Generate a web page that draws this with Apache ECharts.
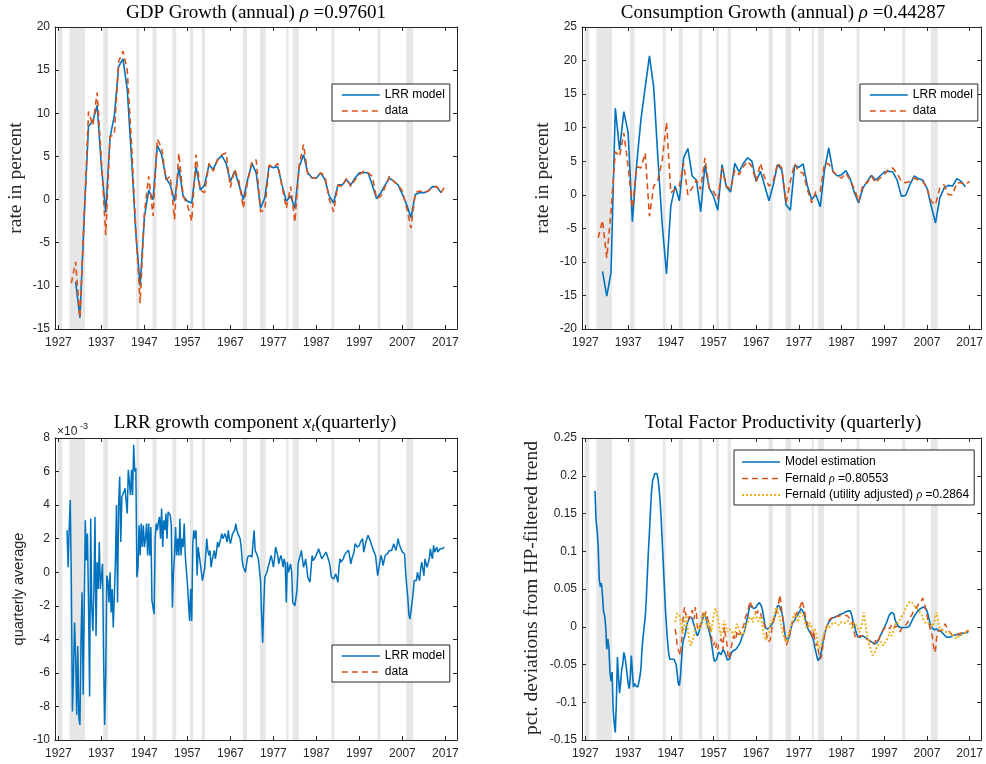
<!DOCTYPE html>
<html><head><meta charset="utf-8">
<script src="https://cdn.jsdelivr.net/npm/echarts@6/dist/echarts.min.js"></script>
<style>html,body{margin:0;padding:0;background:#fff}#c{width:986px;height:764px}</style>
</head><body><div id="c"></div>
<script>
// ---------------- data ----------------
const xTickYears = [1927,1937,1947,1957,1967,1977,1987,1997,2007,2017];
const gdpTicks = [-15,-10,-5,0,5,10,15,20];
const consTicks = [-20,-15,-10,-5,0,5,10,15,20,25];
const xtTicks = [-10,-8,-6,-4,-2,0,2,4,6,8];
const tfpTicks = [-0.15,-0.1,-0.05,0,0.05,0.1,0.15,0.2,0.25];

// NBER recessions [start, end] in years
const recessions = [[1926.8,1927.9],[1929.6,1933.2],[1937.4,1938.5],[1945.1,1945.8],[1948.9,1949.8],
  [1953.5,1954.4],[1957.6,1958.3],[1960.3,1961.1],[1969.9,1970.9],[1973.9,1975.2],[1980.0,1980.5],
  [1981.5,1982.9],[1990.5,1991.2],[2001.2,2001.9],[2007.9,2009.5]];

// GDP growth (annual, %)
const gdpModelStart = 1931;
const gdpModel = [
  -9.5,-13.7,-1.9,8.5,9.1,10.9,3.8,-1.5,7.2,9.7,
  15.4,16.3,12.8,4.8,-3.9,-10.0,-2.0,1.1,0.0,6.3,
  5.2,2.5,1.7,-0.2,3.7,0.4,-0.2,-0.4,3.8,1.1,
  1.7,4.0,3.5,4.6,5.1,4.2,2.1,3.3,1.7,0.0,
  2.3,4.2,3.1,-1.0,0.2,3.9,3.7,3.8,1.7,-0.2,
  0.4,-1.0,3.8,5.2,3.1,2.5,2.5,3.1,2.3,0.4,
  -0.4,1.7,1.7,2.3,1.7,2.5,3.1,3.1,3.1,1.7,
  0.1,0.8,1.7,2.5,2.1,1.7,0.6,-0.6,-2.1,0.6,
  0.8,0.8,1.0,1.5,1.5,0.8];
const gdpDataStart = 1930;
const gdpData = [
  -9.7,-7.2,-13.7,-1.9,10.2,8.6,12.4,4.6,-4.1,7.3,
  7.5,16.0,17.2,15.0,6.5,-3.5,-12.0,-1.5,2.7,-1.9,
  7.0,6.0,2.3,2.7,-2.3,5.4,0.4,-0.6,-2.5,5.2,
  1.1,0.8,4.2,3.3,4.6,5.2,5.4,1.4,3.5,2.1,
  -1.0,2.1,4.4,4.6,-1.4,-1.2,4.0,3.7,4.2,1.5,
  -1.0,1.5,-2.6,4.0,6.4,2.9,2.5,2.5,3.1,2.7,
  0.0,-1.4,1.7,1.5,2.5,1.5,2.3,2.9,3.3,3.1,
  2.7,0.1,0.4,1.5,2.7,2.1,1.7,1.0,-1.0,-3.3,
  0.8,1.0,0.8,1.0,1.4,1.5,0.8,1.6];

// Consumption growth (annual, %)
const consModelStart = 1931;
const consModel = [
  -11.4,-15.1,-11.6,12.9,6.7,12.4,9.3,-4.0,4.5,11.2,
  16.0,20.7,16.0,5.2,-4.5,-11.8,-1.7,1.3,-0.9,5.5,
  6.9,2.8,2.2,-2.5,4.4,1.0,-0.2,-2.3,4.5,1.2,
  0.4,4.7,3.4,4.7,5.5,5.0,2.0,3.5,1.3,-0.9,
  1.5,4.5,3.7,-1.5,-2.3,4.4,4.1,4.6,1.3,-0.7,
  0.0,-1.8,3.7,7.0,3.4,2.8,3.0,3.6,2.4,0.3,
  -1.2,1.0,2.0,2.9,2.2,2.8,3.4,3.5,3.4,2.2,
  -0.2,-0.1,1.5,2.8,2.4,2.2,1.0,-1.7,-4.2,-0.5,
  1.0,1.4,1.3,2.4,2.0,1.2];
const consDataStart = 1930;
const consData = [
  -6.4,-3.8,-9.4,-2.5,6.4,5.7,9.2,4.2,-2.0,4.2,
  4.0,6.2,-3.2,1.3,2.2,5.2,10.8,0.3,0.8,1.3,
  4.7,0.0,1.0,2.2,0.8,5.5,1.0,0.5,-0.7,4.0,
  1.3,0.8,3.7,3.0,4.2,5.0,4.2,2.0,4.7,2.5,
  1.3,2.0,4.7,4.0,-1.2,2.0,4.6,3.5,3.2,0.8,
  -1.2,0.5,0.5,4.7,4.6,3.5,2.8,2.5,3.2,2.2,
  0.9,-1.0,1.5,1.8,2.8,1.8,2.5,3.0,3.8,4.0,
  3.2,2.0,1.8,2.0,2.5,2.2,2.0,1.0,-1.0,-1.5,
  1.0,1.5,0.0,0.0,1.8,1.8,1.5,2.0];

// LRR growth component x_t (quarterly, in units of 1e-3), from 1929Q1
const xtStart = 1929;
const xtModel = [
  2.5,0.3,2.6,4.3,  -0.6,-8.3,-6.0,-3.0,  -5.0,-8.5,-4.4,-8.7,  -9.1,-4.0,-1.2,-7.3,
  -7.3,3.1,0.7,2.3,  -2.0,-7.4,3.2,-2.0,  -3.5,-1.0,3.3,-3.8,  0.6,-1.0,1.8,-1.0,
  -1.0,0.5,-5.0,-9.1,  -6.0,-0.2,-0.5,-1.8,  0.0,-2.4,-1.0,-3.3,  -3.3,0.6,4.0,-1.8,
  4.0,5.7,1.8,4.5,  4.5,4.8,5.0,5.0,  3.5,6.1,6.1,4.6,  6.1,4.6,7.6,6.0,
  6.2,-0.3,0.3,2.8,  1.0,2.9,1.5,2.8,  1.5,2.0,2.9,1.0,  2.9,1.0,2.7,-1.7,
  -1.7,-2.5,2.0,2.9,  2.5,3.0,3.3,2.0,  3.8,1.5,3.1,2.5,  3.5,2.0,3.6,3.6,
  3.4,2.8,-2.1,0.0,  1.0,2.7,1.0,2.0,  1.0,3.2,1.0,2.0,  1.5,2.9,1.0,1.0,
  -0.7,-0.7,-2.9,-1.0,  -2.9,1.7,2.5,2.0,  2.5,-0.2,1.5,1.0,  0.5,0.0,-0.5,-0.6,
  0.2,1.0,2.0,1.3,  1.0,1.3,0.3,0.7,  1.0,1.3,0.8,1.2,  1.8,1.5,1.5,2.0,
  2.3,2.0,2.0,2.3,  2.3,1.8,2.5,2.0,  1.7,1.7,2.3,2.3,  2.5,2.9,2.5,2.3,
  2.3,2.0,1.5,0.7,  0.3,0.3,0.0,0.5,  0.9,0.9,1.0,1.0,  0.9,1.0,2.5,1.3,
  1.3,1.0,0.8,0.8,  -0.5,-2.5,-4.2,-2.0,  -0.3,-0.2,0.0,0.3,  0.5,0.8,1.0,1.0,
  0.3,0.8,1.5,1.5,  1.0,0.5,0.8,1.0,  0.7,0.3,0.8,0.5,  -1.8,0.6,0.0,0.0,
  0.5,0.0,-1.8,-1.9,  -2.0,-2.1,-1.0,0.5,  0.8,1.0,1.3,0.8,  0.3,0.5,0.8,0.3,
  -0.3,-0.3,-0.6,0.2,  1.0,0.7,0.7,0.9,  1.0,1.2,1.4,1.4,  1.0,0.8,0.9,1.0,
  1.0,1.2,1.0,0.8,  0.6,0.2,-0.3,-0.4,  -0.4,-0.4,-0.1,-0.1,  -0.6,0.3,0.8,0.6,
  0.5,0.8,1.0,1.0,  1.2,1.2,1.3,1.3,  0.5,0.8,1.0,1.2,  1.7,1.7,1.5,1.5,
  1.6,1.8,1.9,2.0,  1.2,1.5,1.8,2.0,  2.2,2.2,1.9,1.7,  1.5,1.3,1.2,1.0,
  1.0,-0.2,0.2,0.6,  1.0,0.8,0.4,0.4,  1.0,1.0,1.1,1.2,  1.3,1.2,1.3,1.5,
  1.7,1.5,1.3,1.6,  2.0,1.7,1.5,1.5,  1.2,1.1,1.1,0.0,  -0.8,-1.5,-2.5,-2.8,
  -2.8,-1.8,-1.2,-0.5,  -0.5,-0.5,0.0,-0.3,  -0.5,0.2,0.6,0.2,  -0.2,0.8,0.5,0.3,
  0.3,0.8,1.4,1.0,  0.8,1.6,1.2,1.2,  1.5,1.2,1.2,1.4,  1.5,1.4,1.5,1.5];

// TFP: model estimate (quarterly, from 1929Q2)
const tfpModelStart = 1929.25;
const tfpModel = [
  0.18,0.14,0.128,
  0.105,0.062,0.053,0.058,  0.041,0.02,0.015,0.0,  -0.03,-0.016,-0.028,-0.06,  -0.072,-0.06,-0.11,-0.128,
  -0.14,-0.1,-0.04,-0.066,  -0.088,-0.074,-0.056,-0.05,  -0.034,-0.04,-0.05,-0.062,  -0.075,-0.082,-0.068,-0.038,
  -0.06,-0.08,-0.075,-0.078,  -0.079,-0.08,-0.074,-0.066,  -0.056,-0.03,-0.014,-0.012,  0.012,0.035,0.068,0.1,
  0.125,0.155,0.18,0.194,  0.198,0.203,0.205,0.203,  0.196,0.184,0.166,0.142,  0.112,0.082,0.052,0.022,
  0.0,-0.02,-0.035,-0.043,  -0.045,-0.043,-0.044,-0.043,  -0.045,-0.05,-0.062,-0.075,  -0.078,-0.066,-0.045,-0.025,
  -0.016,-0.013,-0.006,0.003,  0.007,0.01,0.013,0.015,  0.011,0.006,0.001,-0.004,  -0.009,-0.012,-0.008,-0.004,
  -0.002,0.005,0.011,0.016,  0.017,0.012,0.004,-0.002,  -0.006,-0.012,-0.02,-0.03,  -0.04,-0.046,-0.047,-0.043,
  -0.037,-0.034,-0.035,-0.037,  -0.037,-0.03,-0.032,-0.035,  -0.04,-0.044,-0.045,-0.043,  -0.038,-0.034,-0.033,-0.031,
  -0.03,-0.03,-0.028,-0.026,  -0.025,-0.021,-0.017,-0.013,  -0.012,-0.006,0.0,0.007,  0.013,0.02,0.028,0.029,
  0.026,0.025,0.024,0.024,  0.026,0.029,0.031,0.032,  0.03,0.027,0.021,0.013,  0.004,-0.002,-0.004,-0.003,
  -0.001,0.0,0.002,0.004,  0.007,0.011,0.016,0.022,  0.028,0.03,0.027,0.022,  0.019,0.012,0.002,-0.01,
  -0.017,-0.019,-0.016,-0.013,  -0.006,0.0,0.005,0.006,  0.008,0.012,0.014,0.016,  0.017,0.021,0.024,0.023,
  0.02,0.016,0.01,0.004,  -0.001,-0.004,-0.006,-0.009,  -0.012,-0.015,-0.02,-0.028,  -0.034,-0.04,-0.045,-0.044,
  -0.04,-0.033,-0.025,-0.017,  -0.01,-0.005,0.0,0.003,  0.006,0.008,0.01,0.011,  0.012,0.013,0.013,0.013,
  0.014,0.015,0.016,0.016,  0.017,0.017,0.018,0.019,  0.02,0.02,0.021,0.021,  0.021,0.018,0.012,0.006,
  0.002,-0.004,-0.009,-0.013,  -0.014,-0.014,-0.013,-0.012,  -0.012,-0.013,-0.014,-0.015,  -0.016,-0.017,-0.018,-0.019,
  -0.02,-0.021,-0.022,-0.023,  -0.023,-0.021,-0.019,-0.016,  -0.013,-0.01,-0.007,-0.004,  -0.001,0.002,0.005,0.009,
  0.013,0.016,0.018,0.019,  0.02,0.017,0.01,0.006,  0.004,0.001,-0.001,-0.001,  -0.001,-0.001,-0.001,-0.001,
  -0.001,-0.001,-0.001,0.0,  0.002,0.005,0.008,0.011,  0.013,0.016,0.018,0.02,  0.021,0.023,0.024,0.025,
  0.026,0.026,0.025,0.024,  0.021,0.016,0.01,0.004,  0.001,-0.002,-0.004,-0.004,  -0.003,-0.003,-0.004,-0.005,
  -0.005,-0.006,-0.008,-0.009,  -0.011,-0.012,-0.013,-0.014,  -0.014,-0.014,-0.014,-0.013,  -0.012,-0.011,-0.012,-0.011,
  -0.01,-0.01,-0.012,-0.011,  -0.01,-0.009,-0.008,-0.008,  -0.007,-0.008,-0.006,-0.006];

// TFP: Fernald series (quarterly, from 1948Q1)
const fernaldStart = 1948;
const fernald = [
  -0.003,-0.01,-0.025,-0.03,  -0.028,-0.038,-0.02,0.0,  0.02,0.026,0.015,0.018,  0.02,0.01,0.012,0.016,
  0.022,0.024,0.01,0.026,  0.018,0.0,-0.005,-0.002,  0.005,0.01,0.017,0.02,  0.015,0.02,0.018,0.008,
  0.005,-0.005,-0.012,-0.022,  -0.025,-0.02,-0.028,-0.022,  -0.03,-0.022,-0.02,-0.016,  -0.02,-0.03,0.0,-0.01,
  -0.015,-0.03,-0.043,-0.04,  -0.03,-0.025,-0.015,-0.012,  -0.018,-0.015,-0.005,-0.01,  -0.012,-0.01,-0.003,-0.005,
  0.0,0.006,0.013,0.016,  0.019,0.026,0.034,0.03,  0.028,0.025,0.024,0.02,  0.02,0.018,0.022,0.024,
  0.018,0.013,0.01,0.006,  0.0,-0.005,-0.012,-0.02,  -0.02,-0.018,-0.01,0.0,  0.006,0.012,0.015,0.02,
  0.024,0.03,0.042,0.034,  0.02,0.01,-0.005,-0.012,  -0.025,-0.022,-0.02,-0.012,  -0.005,0.002,0.006,0.01,
  0.012,0.015,0.018,0.02,  0.022,0.026,0.03,0.035,  0.028,0.024,0.015,0.01,  0.005,0.0,-0.003,-0.005,
  -0.01,-0.016,-0.005,-0.02,  -0.025,-0.022,-0.03,-0.038,  -0.043,-0.04,-0.03,-0.02,  -0.012,-0.005,0.0,0.006,
  0.008,0.01,0.01,0.012,  0.012,0.01,0.012,0.014,  0.012,0.014,0.015,0.015,  0.016,0.015,0.014,0.015,
  0.014,0.015,0.016,0.012,  0.01,0.008,0.005,-0.002,  -0.008,-0.016,-0.015,-0.014,  -0.016,-0.012,-0.014,-0.012,
  -0.014,-0.013,-0.015,-0.016,  -0.016,-0.017,-0.018,-0.02,  -0.021,-0.024,-0.025,-0.022,  -0.018,-0.02,-0.021,-0.017,
  -0.012,-0.01,-0.006,-0.004,  -0.003,0.0,0.002,0.0,  -0.001,-0.003,0.0,0.004,  0.005,0.002,-0.001,0.0,
  0.001,0.002,-0.004,-0.007,  -0.003,-0.001,0.0,0.001,  0.002,0.004,0.006,0.008,  0.012,0.013,0.016,0.02,
  0.022,0.024,0.025,0.027,  0.03,0.032,0.031,0.035,  0.038,0.04,0.03,0.02,  0.015,0.008,0.004,-0.003,
  -0.008,-0.012,-0.025,-0.034,  -0.03,-0.015,-0.008,-0.005,  -0.004,-0.005,-0.003,-0.002,  0.0,0.004,0.006,-0.002,
  -0.004,-0.007,-0.009,-0.01,  -0.01,-0.012,-0.01,-0.011,  -0.012,-0.01,-0.01,-0.009,  -0.01,-0.008,-0.009,-0.007,
  -0.008,-0.006,-0.007,-0.006];
const fernaldUtil = [
  0.006,0.012,0.018,0.019,  0.016,0.01,0.002,-0.01,  -0.004,0.006,0.015,0.01,  -0.005,-0.015,-0.022,-0.025,
  -0.02,-0.015,-0.01,0.0,  0.004,0.006,0.0,-0.004,  -0.004,0.005,0.015,0.019,  0.015,0.006,-0.002,0.0,
  0.006,0.0,-0.007,0.004,  0.012,0.02,0.024,0.02,  0.012,0.002,-0.006,-0.012,  -0.006,0.002,0.008,0.004,
  -0.002,-0.007,-0.006,-0.003,  -0.001,-0.005,-0.009,-0.012,  -0.008,-0.002,0.004,0.0,  -0.003,-0.008,-0.011,-0.012,
  -0.01,-0.006,-0.002,0.003,  0.006,0.01,0.013,0.015,  0.01,0.006,0.014,0.017,  0.015,0.01,0.007,0.01,
  0.014,0.01,0.0,-0.01,  -0.014,-0.018,-0.016,-0.012,  -0.004,0.002,0.006,0.008,  0.01,0.016,0.022,0.026,
  0.022,0.017,0.013,0.005,  -0.003,-0.01,-0.013,-0.016,  -0.02,-0.016,-0.012,-0.006,  -0.003,0.002,0.008,0.015,
  0.018,0.019,0.013,0.006,  0.01,0.015,0.019,0.017,  0.015,0.01,0.004,-0.001,  -0.003,0.0,0.006,0.002,
  -0.001,-0.005,-0.007,-0.003,  -0.008,-0.015,-0.025,-0.029,  -0.027,-0.024,-0.018,-0.012,  -0.007,-0.004,-0.001,0.002,
  -0.001,-0.003,0.001,0.004,  0.005,0.006,0.006,0.004,  0.003,0.002,0.004,0.006,  0.006,0.005,0.004,0.005,
  0.006,0.008,0.008,0.007,  0.006,0.002,-0.003,0.002,  0.006,0.003,0.0,-0.001,  -0.004,-0.007,-0.005,0.004,
  0.013,0.019,0.008,-0.003,  -0.012,-0.018,-0.024,-0.029,  -0.033,-0.038,-0.036,-0.034,  -0.031,-0.027,-0.025,-0.023,
  -0.021,-0.02,-0.022,-0.025,  -0.022,-0.02,-0.018,-0.016,  -0.012,-0.007,-0.009,-0.012,  -0.008,-0.003,0.002,0.006,
  0.006,0.005,0.004,0.01,  0.013,0.015,0.017,0.019,  0.024,0.027,0.03,0.032,  0.033,0.035,0.033,0.03,
  0.028,0.026,0.025,0.024,  0.022,0.02,0.019,0.016,  0.012,0.008,0.006,0.004,  0.004,0.005,0.006,0.004,
  0.002,0.0,-0.001,0.008,  0.016,0.019,0.012,0.004,  -0.002,-0.003,-0.004,-0.005,  -0.005,-0.006,-0.007,-0.007,
  -0.007,-0.007,-0.008,-0.01,  -0.011,-0.012,-0.014,-0.016,  -0.016,-0.014,-0.012,-0.012,  -0.011,-0.01,-0.009,-0.009,
  -0.008,-0.006,-0.005,-0.005];

// ---------------- chart ----------------
const BLUE = '#0072BD', RED = '#D95319', YEL = '#EDB120', AX = '#262626', BAND = '#e6e6e6';
const SANS = 'Liberation Sans', SERIF = 'Liberation Serif';
const annual = (s, v) => v.map((y, i) => [s + i, y]);
const quarterly = (s, v) => v.map((y, i) => [s + i / 4, y]);

const grids = [
  {left: 55, top: 27, width: 402, height: 302},
  {left: 582, top: 27, width: 402, height: 302},
  {left: 55, top: 438, width: 402, height: 302},
  {left: 582, top: 438, width: 402, height: 302}
];
const yTicks = [gdpTicks, consTicks, xtTicks, tfpTicks];
const yFmt = [v => String(v), v => String(v), v => String(v), v => String(+(+v).toFixed(2))];

const xAxis = [], yAxis = [];
grids.forEach((g, i) => {
  const line = {show: true, onZero: false, lineStyle: {color: AX, width: 1}};
  const xb = {type: 'value', gridIndex: i, min: 1926.2, max: 2019.7, splitLine: {show: false}, axisLine: line,
    axisTick: {show: true, inside: true, length: 4, customValues: xTickYears, lineStyle: {color: AX, width: 1}}};
  xAxis.push(Object.assign({}, xb, {position: 'bottom',
    axisLabel: {show: true, customValues: xTickYears, formatter: v => String(Math.round(v)),
      color: AX, fontSize: 12, fontFamily: SANS, margin: 8}}));
  xAxis.push(Object.assign({}, xb, {position: 'top', axisLabel: {show: false}}));
  const t = yTicks[i];
  const yb = {type: 'value', gridIndex: i, min: t[0], max: t[t.length - 1], splitLine: {show: false}, axisLine: line,
    axisTick: {show: true, inside: true, length: 4, customValues: t, lineStyle: {color: AX, width: 1}}};
  yAxis.push(Object.assign({}, yb, {position: 'left',
    axisLabel: {show: true, customValues: t, formatter: yFmt[i], color: AX, fontSize: 12, fontFamily: SANS, margin: 5}}));
  yAxis.push(Object.assign({}, yb, {position: 'right', axisLabel: {show: false}}));
});

const series = [];
grids.forEach((g, i) => {
  series.push({
    type: 'custom', xAxisIndex: 2 * i, yAxisIndex: 2 * i, z: -1, silent: true, data: recessions,
    encode: {x: [0, 1]},
    renderItem: (params, api) => {
      const cs = params.coordSys;
      const a = Math.max(api.coord([api.value(0), 0])[0], cs.x);
      const b = Math.min(api.coord([api.value(1), 0])[0], cs.x + cs.width);
      return {type: 'rect', shape: {x: a, y: cs.y, width: b - a, height: cs.height}, style: {fill: BAND}};
    }
  });
});
function ln(name, i, data, color, type, width) {
  return {name, type: 'line', xAxisIndex: 2 * i, yAxisIndex: 2 * i, data, symbol: 'none', showSymbol: false,
    animation: false, lineStyle: {color, width: width || 1.6, type: type || 'solid'}, itemStyle: {color}, z: 3};
}
const DASH = [6, 4], DOT = [2, 2];
series.push(ln('LRR model', 0, annual(gdpModelStart, gdpModel), BLUE));
series.push(ln('data', 0, annual(gdpDataStart, gdpData), RED, DASH));
series.push(ln('LRR model', 1, annual(consModelStart, consModel), BLUE));
series.push(ln('data', 1, annual(consDataStart, consData), RED, DASH));
series.push(ln('LRR model', 2, quarterly(xtStart, xtModel), BLUE, 'solid', 1.5));
series.push(ln('data', 2, [], RED, DASH));
series.push(ln('Model estimation', 3, quarterly(tfpModelStart, tfpModel), BLUE));
series.push(ln('Fernald ρ =0.80553', 3, quarterly(fernaldStart, fernald), RED, DASH, 1.5));
series.push(ln('Fernald (utility adjusted) ρ =0.2864', 3, quarterly(fernaldStart, fernaldUtil), YEL, DOT, 2));

function legend(left, top, names, pad, gap) {
  return {data: names, left, top, orient: 'vertical', selectedMode: false, itemWidth: 38, itemHeight: 12,
    itemGap: gap, borderColor: AX, borderWidth: 1, borderRadius: 0, backgroundColor: '#fff', padding: pad,
    itemStyle: {opacity: 0}, lineStyle: {width: 'inherit'},
    formatter: n => n.replace('ρ', '{r|ρ}'),
    textStyle: {fontSize: 12, fontFamily: SANS, color: '#000',
      rich: {r: {fontSize: 12, fontFamily: SERIF, fontStyle: 'italic', color: '#000'}}}};
}

const TITLE = {fill: '#000', fontFamily: SERIF, fontSize: 19,
  rich: {i: {fill: '#000', fontFamily: SERIF, fontSize: 19, fontStyle: 'italic'},
         s: {fill: '#000', fontFamily: SERIF, fontSize: 13, fontStyle: 'italic', padding: [9, 0, 0, 0]}}};
const YNAME = {fill: AX, fontFamily: SERIF, fontSize: 19.5};
function txt(x, y, text, style, rot, align) {
  return {type: 'text', x, y, rotation: rot || 0, silent: true, z: 10,
    style: Object.assign({text, align: align || 'center', verticalAlign: 'middle'}, style)};
}
const R = Math.PI / 2;
const graphic = [
  txt(256, 13, 'GDP Growth (annual) {i|ρ} =0.97601', TITLE),
  txt(783, 13, 'Consumption Growth (annual) {i|ρ} =0.44287', TITLE),
  txt(255, 423, 'LRR growth component {i|x}{s|t}(quarterly)', TITLE),
  txt(783, 423, 'Total Factor Productivity (quarterly)', TITLE),
  txt(16, 178, 'rate in percent', YNAME, R),
  txt(543, 178, 'rate in percent', YNAME, R),
  txt(19, 589, 'quarterly average', {fill: AX, fontFamily: SANS, fontSize: 14.5}, R),
  txt(532, 588, 'pct. deviations from HP-filtered trend', YNAME, R),
  txt(57, 432, '×10', {fill: AX, fontFamily: SANS, fontSize: 12}, 0, 'left'),
  txt(80, 427, '-3', {fill: AX, fontFamily: SANS, fontSize: 9}, 0, 'left')
];

const chart = echarts.init(document.getElementById('c'), null, {renderer: 'canvas'});
chart.setOption({
  animation: false,
  backgroundColor: '#fff',
  grid: grids,
  xAxis, yAxis, series, graphic,
  legend: [
    legend(332, 84, ['LRR model', 'data'], [5, 5, 4, 9], 4),
    legend(860, 84, ['LRR model', 'data'], [5, 5, 4, 9], 4),
    legend(332, 645, ['LRR model', 'data'], [5, 5, 4, 9], 4),
    legend(734, 450, ['Model estimation', 'Fernald ρ =0.80553', 'Fernald (utility adjusted) ρ =0.2864'], [6, 5, 4, 7], 4.5)
  ]
});
</script>
</body></html>
